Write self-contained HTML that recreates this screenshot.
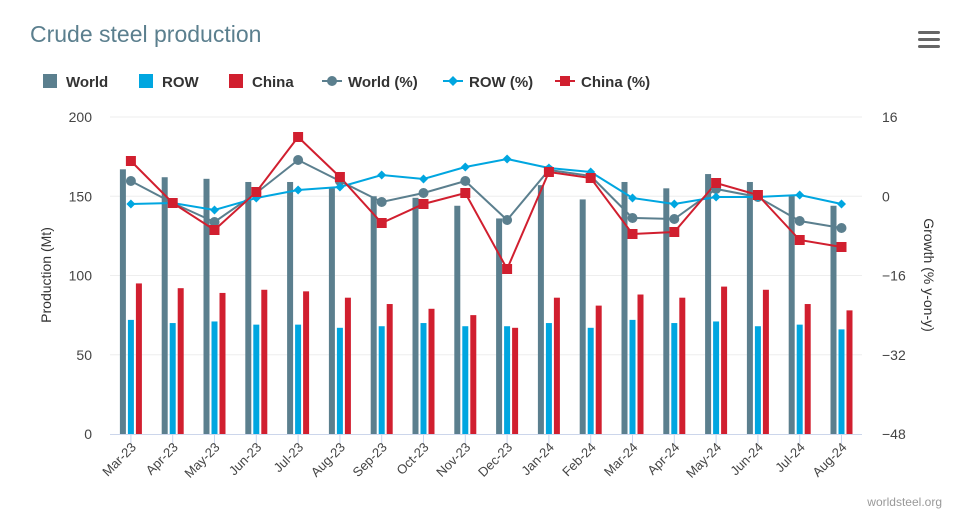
<!DOCTYPE html>
<html><head><meta charset="utf-8"><style>
body{margin:0;background:#fff;font-family:"Liberation Sans",sans-serif}
</style></head><body>
<svg id="s" width="972" height="523" xmlns="http://www.w3.org/2000/svg" font-family="Liberation Sans, sans-serif"></svg>
<script>
const s=document.getElementById('s');
let h='';
h+='<text x="30" y="42" font-size="23" fill="#5b7f8e">Crude steel production</text>';
h+='<rect x="918" y="31" width="22" height="3" rx="1.5" fill="#666"/><rect x="918" y="38" width="22" height="3" rx="1.5" fill="#666"/><rect x="918" y="45" width="22" height="3" rx="1.5" fill="#666"/>';
// legend
h+='<rect x="43" y="74" width="14" height="14" fill="#5b7f8e"/><text x="66" y="87" font-size="15" font-weight="bold" fill="#333">World</text>';
h+='<rect x="139" y="74" width="14" height="14" fill="#00a6e0"/><text x="162" y="87" font-size="15" font-weight="bold" fill="#333">ROW</text>';
h+='<rect x="229" y="74" width="14" height="14" fill="#d11f2f"/><text x="252" y="87" font-size="15" font-weight="bold" fill="#333">China</text>';
h+='<line x1="322" y1="81" x2="342" y2="81" stroke="#5b7f8e" stroke-width="2"/><circle cx="332" cy="81" r="5" fill="#5b7f8e"/><text x="348" y="87" font-size="15" font-weight="bold" fill="#333">World (%)</text>';
h+='<line x1="443" y1="81" x2="463" y2="81" stroke="#00a6e0" stroke-width="2"/><path d="M453 76L458 81L453 86L448 81Z" fill="#00a6e0"/><text x="469" y="87" font-size="15" font-weight="bold" fill="#333">ROW (%)</text>';
h+='<line x1="555" y1="81" x2="575" y2="81" stroke="#d11f2f" stroke-width="2"/><rect x="560" y="76" width="10" height="10" fill="#d11f2f"/><text x="581" y="87" font-size="15" font-weight="bold" fill="#333">China (%)</text>';
// axes
const L=[200,150,100,50,0],R=[16,0,-16,-32,-48];
for(let i=0;i<5;i++){const y=117+i*79.25;
 if(i<4)h+=`<line x1="110" y1="${y}" x2="862" y2="${y}" stroke="#eee"/>`;
 h+=`<text x="92" y="${y+5}" font-size="14" fill="#444" text-anchor="end">${L[i]}</text>`;
 h+=`<text x="882" y="${y+5}" font-size="14" fill="#444">${R[i]<0?'−'+(-R[i]):R[i]}</text>`;}
h+='<line x1="110" y1="434.5" x2="862" y2="434.5" stroke="#ccd6eb"/>';
h+='<text transform="translate(51,275) rotate(-90)" font-size="14" fill="#333" text-anchor="middle">Production (Mt)</text>';
h+='<text transform="translate(924,275) rotate(90)" font-size="14" fill="#333" text-anchor="middle">Growth (% y-on-y)</text>';
const lab=['Mar-23','Apr-23','May-23','Jun-23','Jul-23','Aug-23','Sep-23','Oct-23','Nov-23','Dec-23','Jan-24','Feb-24','Mar-24','Apr-24','May-24','Jun-24','Jul-24','Aug-24'];
const W=[167,162,161,159,159,155,150,149,144,136,157,148,159,155,164,159,151,144];
const RO=[72,70,71,69,69,67,68,70,68,68,70,67,72,70,71,68,69,66];
const C=[95,92,89,91,90,86,82,79,75,67,86,81,88,86,93,91,82,78];
const WP=[181,203,222,193,160,181,202,193,181,220,170,176,218,219,189,197,221,228];
const RP=[204,203,210,198,190,187,175,179,167,159,168,172,198,204,197,197,195,204];
const CP=[161,203,230,192,137,177,223,204,193,269,172,178,234,232,183,195,240,247];
const cx=i=>130.9+i*41.8, yv=v=>434-v*1.585;
for(let i=0;i<18;i++){const x=cx(i);
 h+=`<rect x="${x-11}" y="${yv(W[i])}" width="6" height="${W[i]*1.585}" fill="#5b7f8e"/>`;
 h+=`<rect x="${x-3}" y="${yv(RO[i])}" width="6" height="${RO[i]*1.585}" fill="#00a6e0"/>`;
 h+=`<rect x="${x+5}" y="${yv(C[i])}" width="6" height="${C[i]*1.585}" fill="#d11f2f"/>`;
 h+=`<line x1="${x}" y1="434" x2="${x}" y2="444" stroke="#ccd6eb"/>`;
 h+=`<text transform="translate(${x+6},448) rotate(-45)" font-size="13" fill="#444" text-anchor="end">${lab[i]}</text>`;}
const pl=(a,c)=>`<polyline fill="none" stroke="${c}" stroke-width="2" points="${a.map((y,i)=>cx(i)+','+y).join(' ')}"/>`;
h+=pl(WP,'#5b7f8e')+pl(RP,'#00a6e0')+pl(CP,'#d11f2f');
for(let i=0;i<18;i++){const x=cx(i);
 h+=`<circle cx="${x}" cy="${WP[i]}" r="5" fill="#5b7f8e"/>`;
 h+=`<path d="M${x} ${RP[i]-4.5}L${x+4.5} ${RP[i]}L${x} ${RP[i]+4.5}L${x-4.5} ${RP[i]}Z" fill="#00a6e0"/>`;
 h+=`<rect x="${x-5}" y="${CP[i]-5}" width="10" height="10" fill="#d11f2f"/>`;}
h+='<text x="942" y="506" font-size="12" fill="#999" text-anchor="end">worldsteel.org</text>';
s.innerHTML=h;
</script>
</body></html>
